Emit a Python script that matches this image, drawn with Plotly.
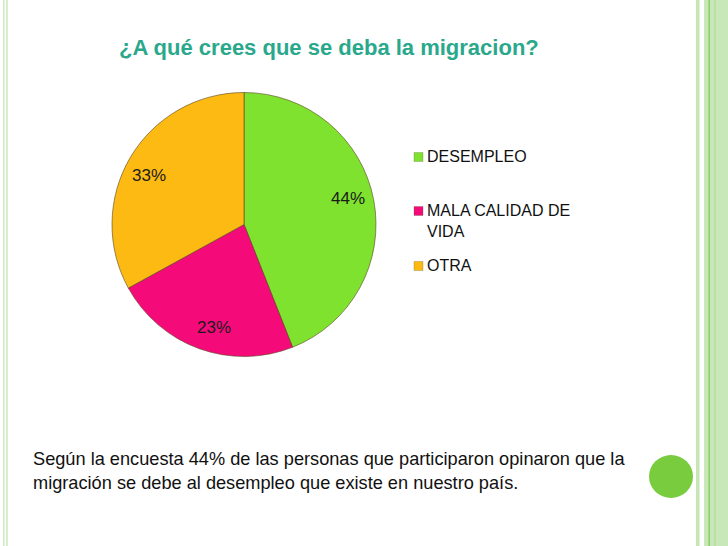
import math
import plotly.graph_objects as go

labels = ["DESEMPLEO", "MALA CALIDAD DE<br>VIDA", "OTRA"]
values = [44, 23, 33]
colors = ["#7EE22E", "#F50A7A", "#FDBA12"]
title_text = "¿A qué crees que se deba la migracion?"
note_lines = [
    "Según la encuesta 44% de las personas que participaron opinaron que la",
    "migración se debe al desempleo que existe en nuestro país.",
]

W, H = 728, 546
CX, CY, R = 244, 224.5, 132

fig = go.Figure()
fig.add_trace(go.Pie(
    labels=labels,
    values=values,
    sort=False,
    direction="clockwise",
    rotation=0,
    marker=dict(colors=colors, line=dict(color="rgba(90,70,30,0.6)", width=1)),
    textinfo="none",
    domain=dict(x=[(CX - R) / W, (CX + R) / W], y=[1 - (CY + R) / H, 1 - (CY - R) / H]),
    showlegend=False,
    hoverinfo="label+percent",
))

shapes = []
annotations = []

# percentage labels placed along each slice's mid-angle
total = sum(values)
cum = 0
for v in values:
    mid = (cum + v / 2) / total * 2 * math.pi - 0.06
    cum += v
    px = CX + 0.81 * R * math.sin(mid)
    py = CY - 0.81 * R * math.cos(mid)
    annotations.append(dict(xref="paper", yref="paper", x=px / W, y=1 - py / H,
                            xanchor="center", yanchor="middle",
                            text=f"{round(100 * v / total)}%", showarrow=False,
                            font=dict(family="Liberation Sans, Arial", size=17, color="#1a1a1a")))

# border stripes
for x0, x1, c in [(3, 4.5, "#cfeac2"), (6, 8, "#d6eecb"),
                  (696, 699.5, "#c6e6b6"), (704, 728, "#c9e8ba")]:
    shapes.append(dict(type="rect", xref="paper", yref="paper",
                       x0=x0 / W, x1=x1 / W, y0=0, y1=1,
                       fillcolor=c, line=dict(width=0), layer="below"))
for x0, x1, c in [(708.5, 710, "#8bd066"), (714, 716, "#b9e0a5")]:
    shapes.append(dict(type="rect", xref="paper", yref="paper",
                       x0=x0 / W, x1=x1 / W, y0=0, y1=1,
                       fillcolor=c, line=dict(width=0), layer="below"))

# green circle
shapes.append(dict(type="circle", xref="paper", yref="paper",
                   x0=649 / W, x1=693 / W, y0=1 - 498 / H, y1=1 - 455 / H,
                   fillcolor="#7ACC3F", line=dict(width=0)))

# manual legend
legend_y = [157, 211, 266]
for lab, col, ly in zip(labels, colors, legend_y):
    shapes.append(dict(type="rect", xref="paper", yref="paper",
                       x0=414 / W, x1=423 / W, y0=1 - (ly + 4.5) / H, y1=1 - (ly - 4.5) / H,
                       fillcolor=col, line=dict(color="rgba(80,80,40,0.5)", width=0.5)))
    annotations.append(dict(xref="paper", yref="paper", x=425 / W,
                            y=1 - (ly - 11) / H, xanchor="left", yanchor="top",
                            text=lab, showarrow=False, align="left",
                            font=dict(family="Liberation Sans, Arial", size=16, color="#111111")))

# title
annotations.append(dict(xref="paper", yref="paper", x=329 / W, y=1 - 47 / H,
                        xanchor="center", yanchor="middle", text="<b>" + title_text + "</b>",
                        showarrow=False,
                        font=dict(family="Liberation Sans, Arial", size=22, color="#2AA88C")))

# bottom note
annotations.append(dict(xref="paper", yref="paper", x=31 / W, y=1 - 447 / H,
                        xanchor="left", yanchor="top", text="<br>".join(note_lines),
                        showarrow=False, align="left",
                        font=dict(family="Liberation Sans, Arial", size=18.2, color="#111111")))

fig.update_layout(
    width=W, height=H,
    margin=dict(l=0, r=0, t=0, b=0),
    paper_bgcolor="white",
    plot_bgcolor="white",
    shapes=shapes,
    annotations=annotations,
)

fig.write_html("out.html")
